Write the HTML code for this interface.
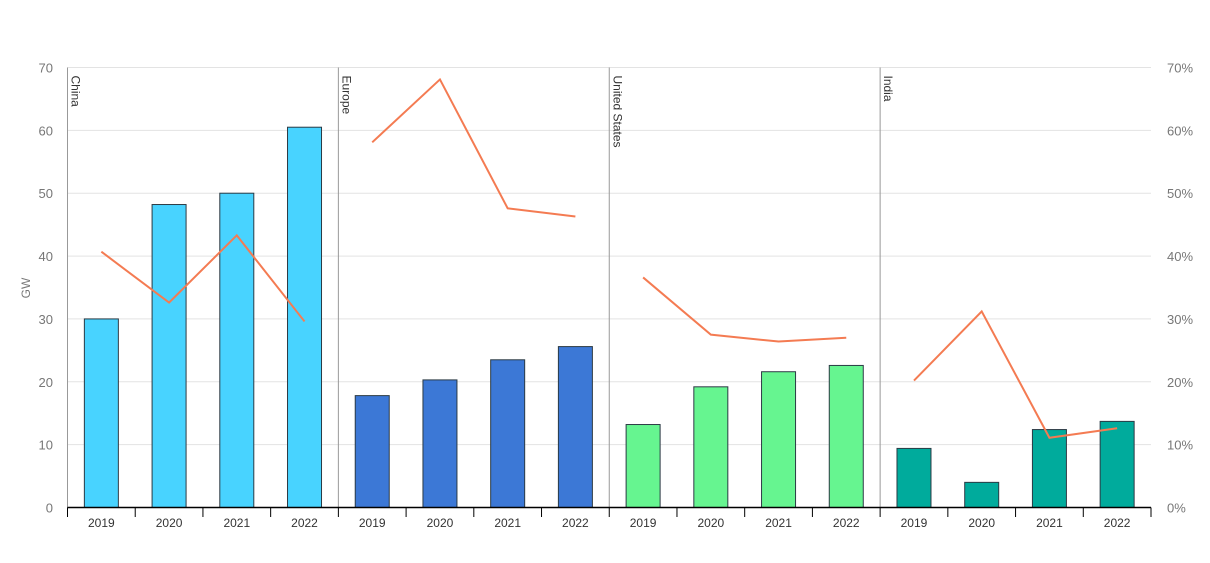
<!DOCTYPE html>
<html><head><meta charset="utf-8"><style>
body{margin:0;background:#fff;font-family:"Liberation Sans",sans-serif;}
svg text{font-family:"Liberation Sans",sans-serif;}
</style></head><body>
<svg id="chart" width="1210" height="558" xmlns="http://www.w3.org/2000/svg"></svg>
<script>
const regions=["China","Europe","United States","India"];
const years=["2019","2020","2021","2022"];
const colors=["#48d3ff","#3c78d6","#66f590","#00ab9c"];
const gwChina=[30,48.2,50,60.5];
const gwEurope=[17.8,20.3,23.5,25.6];
const gwUS=[13.2,19.2,21.6,22.6];
const gwIndia=[9.4,4,12.4,13.7];
const pctChina=[40.7,32.6,43.3,29.6];
const pctEurope=[58.1,68.1,47.6,46.3];
const pctUS=[36.6,27.5,26.4,27.0];
const pctIndia=[20.2,31.2,11.1,12.6];
const leftTicks=[0,10,20,30,40,50,60,70];
const rightTicks=["0%","10%","20%","30%","40%","50%","60%","70%"];
const gw=[gwChina,gwEurope,gwUS,gwIndia];
const pct=[pctChina,pctEurope,pctUS,pctIndia];

const svg=document.getElementById('chart');
const NS="http://www.w3.org/2000/svg";
const X0=67.5,X1=1151,Y0=507.5,Y1=67.5;
const panelW=(X1-X0)/4, catW=panelW/4;
const yL=v=>Y0-(v/70)*(Y0-Y1);
const yR=v=>Y0-(v/70)*(Y0-Y1);
const xc=(p,i)=>X0+p*panelW+(i+0.5)*catW;
function mk(tag,attrs,parent){const e=document.createElementNS(NS,tag);for(const k in attrs)e.setAttribute(k,attrs[k]);(parent||svg).appendChild(e);return e;}

leftTicks.forEach((t,i)=>{
  const y=yL(t);
  if(t>0){const g=mk('line',{x1:X0,x2:X1,y1:y,y2:y,stroke:'#e3e3e3','stroke-width':1});
  
  }
  const tl=mk('text',{x:53,y:y+5,'text-anchor':'end','font-size':13,fill:'#777'});tl.textContent=t;
  
  
  const tr=mk('text',{x:1167,y:y+5,'font-size':13,fill:'#777'});tr.textContent=rightTicks[i];
  
  
});
const yt=mk('text',{x:30,y:288,'font-size':12,fill:'#777','text-anchor':'middle',transform:'rotate(-90 30 288)'});yt.textContent='GW';



regions.forEach((r,p)=>{
  const px=X0+p*panelW;
  const sep=mk('line',{x1:px,x2:px,y1:Y1,y2:Y0,stroke:'#999','stroke-width':1});
  
  
  const lab=mk('text',{x:px+4,y:Y1+8,'font-size':12,fill:'#333',transform:`rotate(90 ${px+4} ${Y1+8})`});lab.textContent=r;
  
  
  gw[p].forEach((v,i)=>{
    const b=mk('rect',{x:xc(p,i)-17,y:yL(v),width:34,height:Y0-yL(v),fill:colors[p],stroke:'#2b3a44','stroke-width':1});
    
    
  });
  const pts=pct[p].map((v,i)=>xc(p,i)+','+yR(v)).join(' ');
  const ln=mk('polyline',{points:pts,fill:'none',stroke:'#f47b52','stroke-width':2});
  
  
  years.forEach((y,i)=>{
    const t=mk('text',{x:xc(p,i),y:527,'text-anchor':'middle','font-size':12,fill:'#333'});t.textContent=y;
    
    
  });
});
for(let k=0;k<=16;k++){
  const x=X0+k*catW;
  const tk=mk('line',{x1:x,x2:x,y1:Y0,y2:517,stroke:'#000','stroke-width':1});
  
  
}
const ax=mk('line',{x1:X0,x2:X1,y1:Y0,y2:Y0,stroke:'#000','stroke-width':1.5});


</script>
</body></html>
